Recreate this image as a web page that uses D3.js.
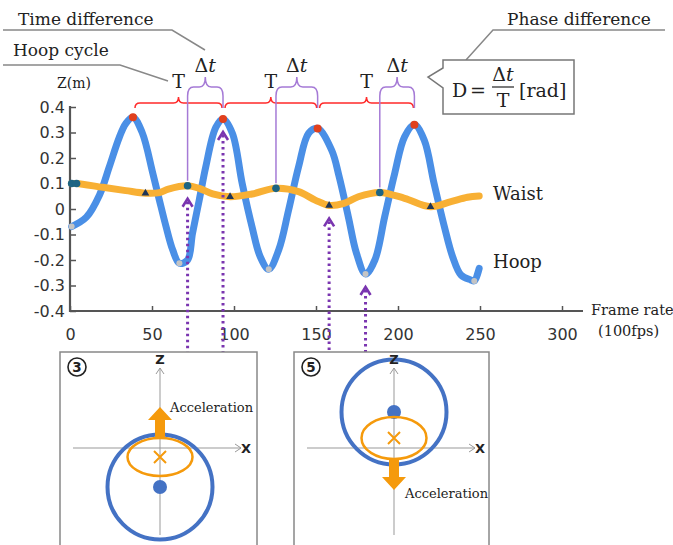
<!DOCTYPE html>
<html>
<head>
<meta charset="utf-8">
<script src="https://cdn.jsdelivr.net/npm/d3@7"></script>
<style>
  body { margin: 0; background: #fff; }
  text { font-family: "DejaVu Serif", serif; fill: #222; }
  .tick text { font-family: "DejaVu Sans", sans-serif; font-size: 16px; fill: #333; }
  .sans { font-family: "DejaVu Sans", sans-serif; font-weight: bold; }
</style>
</head>
<body>
<svg></svg>
<script>
// Hoop height Z(m), by frame
const hoopFrame = [1, 10, 18, 24, 30, 34, 38.4, 44, 50.5, 54.5, 58.6, 62.6, 66.7, 71.7, 74.7,
  78.8, 82.8, 88.9, 93.3, 99, 105, 111, 116, 121.2, 127.3, 133.3, 139.4, 145.5, 151, 159.6, 164,
  169.7, 174.7, 180.2, 185.9, 191.9, 198, 204, 210, 216, 222, 228.3, 233.3, 238.4, 244.4, 246.5, 249.5];
const hoopZ = [-0.069, -0.032, 0.055, 0.166, 0.28, 0.335, 0.36, 0.30, 0.14, 0.035, -0.07, -0.16, -0.213, -0.2, -0.095,
  0.035, 0.166, 0.32, 0.353, 0.297, 0.1, -0.07, -0.187, -0.236, -0.16, -0.004, 0.166, 0.297, 0.316, 0.23, 0.13,
  -0.03, -0.174, -0.255, -0.2, -0.03, 0.14, 0.283, 0.33, 0.27, 0.1, -0.07, -0.187, -0.259, -0.278, -0.282, -0.233];

// Waist height Z(m)
const waistFrame = [1, 4, 20, 34, 46, 54.5, 60, 71.7, 78.8, 87, 97.6, 111, 125.6, 139.4, 149.5, 158,
  167, 175.8, 188.9, 204, 219.8, 232.3, 242.4, 249.5];
const waistZ = [0.10, 0.10, 0.085, 0.072, 0.062, 0.064, 0.078, 0.091, 0.081, 0.059, 0.048, 0.059, 0.081, 0.068, 0.035, 0.014,
  0.022, 0.048, 0.065, 0.042, 0.009, 0.029, 0.046, 0.051];

// marked extremes (frames)
const hoopPeaks = [38.4, 93.3, 151, 210];
const hoopTroughs = [1, 66.7, 121.2, 180.2, 246.5];
const waistPeaks = [1, 4, 71.7, 125.6, 188.9];
const waistTroughs = [46, 97.6, 158, 219.8];

// Δt pairs: waist peak -> following hoop peak
const lagWaist = [71.7, 125.6, 188.9];
const lagHoop = [93.3, 151, 210];

// dotted arrows up to the moments shown in the panels
const arrowFrames = [71.7, 93.3, 158, 180.2];
const arrowSeries = ["waist", "hoop", "waist", "hoop"];

const xTicks = [0, 50, 100, 150, 200, 250, 300];
const yTicks = [-0.4, -0.3, -0.2, -0.1, 0, 0.1, 0.2, 0.3, 0.4];

const hoop = hoopFrame.map((f, i) => [f, hoopZ[i]]);
const waist = waistFrame.map((f, i) => [f, waistZ[i]]);
const zOf = (s, f) => s === "hoop" ? hoopZ[hoopFrame.indexOf(f)] : waistZ[waistFrame.indexOf(f)];

const svg = d3.select("svg").attr("width", 673).attr("height", 545);

const x = d3.scaleLinear().domain([0, 300]).range([70, 562]);
const y = d3.scaleLinear().domain([-0.4, 0.4]).range([311, 107]);

// axes, ticks inside
const gx = svg.append("g").attr("transform", "translate(0,311)")
  .call(d3.axisBottom(x).tickValues(xTicks).tickSize(-5).tickSizeOuter(0).tickPadding(11));
const gy = svg.append("g").attr("transform", "translate(70,0)")
  .call(d3.axisLeft(y).tickValues(yTicks).tickSize(-6).tickSizeOuter(0).tickPadding(5)
    .tickFormat(d => d === 0 ? "0" : d.toFixed(1)));
[gx, gy].forEach(g => {
  g.select(".domain").remove();
  g.selectAll(".tick line").attr("stroke", "#555").attr("stroke-width", 1.5);
});
gx.selectAll(".tick text").attr("dy", "1.1em");
svg.append("line").attr("x1", 70).attr("x2", 583).attr("y1", 311).attr("y2", 311)
  .attr("stroke", "#555").attr("stroke-width", 2.2);
svg.append("line").attr("x1", 70).attr("x2", 70).attr("y1", 106).attr("y2", 312)
  .attr("stroke", "#555").attr("stroke-width", 2.2);

// curves
const line = d3.line().x(d => x(d[0])).y(d => y(d[1])).curve(d3.curveCatmullRom.alpha(0.5));
svg.append("path").datum(hoop).attr("d", line)
  .attr("fill", "none").attr("stroke", "#4a8fe6").attr("stroke-width", 7).attr("stroke-linecap", "round");
svg.append("path").datum(waist).attr("d", line)
  .attr("fill", "none").attr("stroke", "#f8b034").attr("stroke-width", 7).attr("stroke-linecap", "round");

// markers
svg.selectAll("circle.hp").data(hoopPeaks).join("circle")
  .attr("cx", d => x(d)).attr("cy", d => y(zOf("hoop", d))).attr("r", 4).attr("fill", "#e2401c");
svg.selectAll("circle.ht").data(hoopTroughs).join("circle")
  .attr("cx", d => x(d)).attr("cy", d => y(zOf("hoop", d))).attr("r", 3).attr("fill", "#c4c4c4");
svg.selectAll("circle.wp").data(waistPeaks).join("circle")
  .attr("cx", d => x(d)).attr("cy", d => y(zOf("waist", d))).attr("r", 3.8).attr("fill", "#1d6483");
svg.selectAll("path.wt").data(waistTroughs).join("path")
  .attr("d", d3.symbol(d3.symbolTriangle, 26))
  .attr("transform", d => `translate(${x(d)},${y(zOf("waist", d))})`).attr("fill", "#1f3556");

// curly brace path, opening downward
function brace(x1, x2, yEnd, yLine, yTip, r) {
  const xm = (x1 + x2) / 2;
  return `M${x1},${yEnd} Q${x1},${yLine} ${x1 + r},${yLine} L${xm - r},${yLine} Q${xm},${yLine} ${xm},${yTip}` +
    ` Q${xm},${yLine} ${xm + r},${yLine} L${x2 - r},${yLine} Q${x2},${yLine} ${x2},${yEnd}`;
}

// hoop cycle T braces (peak to peak)
d3.range(hoopPeaks.length - 1).forEach(i => {
  const x1 = x(hoopPeaks[i]) + 2, x2 = x(hoopPeaks[i + 1]) - 1;
  svg.append("path").attr("d", brace(x1, x2, 108, 103, 97, 5))
    .attr("fill", "none").attr("stroke", "#ff2a2a").attr("stroke-width", 1.5);
  svg.append("text").attr("x", (x1 + x2) / 2).attr("y", 88).attr("text-anchor", "middle")
    .attr("font-size", 19).text("T");
});

// Δt braces (waist peak to hoop peak)
lagWaist.forEach((f, i) => {
  const x1 = x(f), x2 = x(lagHoop[i]);
  const g = svg.append("g").attr("fill", "none").attr("stroke", "#a57ad6").attr("stroke-width", 1.5);
  g.append("path").attr("d", brace(x1, x2, 96, 87, 77, 6));
  g.append("line").attr("x1", x1).attr("x2", x1).attr("y1", 96).attr("y2", y(zOf("waist", f)) - 5);
  g.append("line").attr("x1", x2).attr("x2", x2).attr("y1", 96).attr("y2", 108);
  const t = svg.append("text").attr("x", (x1 + x2) / 2).attr("y", 72).attr("text-anchor", "middle")
    .attr("font-size", 19);
  t.append("tspan").text("Δ");
  t.append("tspan").attr("font-style", "italic").text("t");
});

// purple dotted arrows
arrowFrames.forEach((f, i) => {
  const ax = x(f), tip = y(zOf(arrowSeries[i], f)) + 13;
  svg.append("line").attr("x1", ax).attr("x2", ax).attr("y1", tip + 3).attr("y2", 353)
    .attr("stroke", "#7a35b0").attr("stroke-width", 3).attr("stroke-dasharray", "2.5,3.5");
  svg.append("path").attr("d", `M${ax - 5},${tip + 8} L${ax},${tip} L${ax + 5},${tip + 8}`)
    .attr("fill", "none").attr("stroke", "#7a35b0").attr("stroke-width", 2.6);
});

// labels
svg.append("text").attr("x", 57).attr("y", 88).attr("font-size", 14).text("Z(m)");
svg.append("text").attr("x", 493).attr("y", 200).attr("font-size", 18).text("Waist");
svg.append("text").attr("x", 493).attr("y", 268).attr("font-size", 18).text("Hoop");
svg.append("text").attr("x", 591).attr("y", 315).attr("font-size", 14.5).text("Frame rate");
svg.append("text").attr("x", 598).attr("y", 336).attr("font-size", 14.5).text("(100fps)");

// callouts
const leader = pts => svg.append("polyline").attr("points", pts.join(" "))
  .attr("fill", "none").attr("stroke", "#888").attr("stroke-width", 1.5);
svg.append("text").attr("x", 18).attr("y", 25).attr("font-size", 17).text("Time difference");
leader([[3, 30], [172, 30], [205, 50]]);
svg.append("text").attr("x", 13).attr("y", 56).attr("font-size", 17).text("Hoop cycle");
leader([[3, 65], [120, 65], [168, 81]]);
svg.append("text").attr("x", 507).attr("y", 25).attr("font-size", 17).text("Phase difference");
leader([[665, 30], [493, 30], [466, 60]]);

// formula box
svg.append("path").attr("d", "M443,60 L574,60 L574,114 L443,114 L443,88 L428,77 L443,68 Z")
  .attr("fill", "#fff").attr("stroke", "#777").attr("stroke-width", 1.5);
svg.append("text").attr("x", 452).attr("y", 97).attr("font-size", 19).text("D");
svg.append("text").attr("x", 470).attr("y", 97).attr("font-size", 19).text("=");
const num = svg.append("text").attr("x", 503).attr("y", 81).attr("text-anchor", "middle").attr("font-size", 19);
num.append("tspan").text("Δ");
num.append("tspan").attr("font-style", "italic").text("t");
svg.append("line").attr("x1", 492).attr("x2", 514).attr("y1", 87).attr("y2", 87)
  .attr("stroke", "#222").attr("stroke-width", 1.2);
svg.append("text").attr("x", 503).attr("y", 107).attr("text-anchor", "middle").attr("font-size", 19).text("T");
svg.append("text").attr("x", 519).attr("y", 97).attr("font-size", 19).text("[rad]");

// schematic panels
const panels = [
  { x: 60, w: 197, num: "3", hoopCy: 135, waistCy: 105, ry: 19, up: true, accX: 110, accY: 60 },
  { x: 294, w: 195, num: "5", hoopCy: 60, waistCy: 86, ry: 21, up: false, accX: 111, accY: 146 }
];
panels.forEach(p => {
  const g = svg.append("g").attr("transform", `translate(${p.x},352)`);
  g.append("rect").attr("width", p.w).attr("height", 205).attr("fill", "#fff")
    .attr("stroke", "#888").attr("stroke-width", 1.5);
  g.append("circle").attr("cx", 17).attr("cy", 15).attr("r", 9).attr("fill", "none")
    .attr("stroke", "#222").attr("stroke-width", 1.6);
  g.append("text").attr("class", "sans").attr("x", 17).attr("y", 20).attr("text-anchor", "middle")
    .attr("font-size", 13.5).text(p.num);
  // axes
  const ax = g.append("g").attr("stroke", "#999").attr("stroke-width", 1).attr("fill", "none");
  ax.append("line").attr("x1", 100).attr("x2", 100).attr("y1", 16).attr("y2", 183);
  ax.append("line").attr("x1", 13).attr("x2", 181).attr("y1", 96).attr("y2", 96);
  ax.append("path").attr("d", "M96,22 L100,16 L104,22");
  ax.append("path").attr("d", "M175,92 L181,96 L175,100");
  // hoop and waist
  g.append("circle").attr("cx", 100).attr("cy", p.hoopCy).attr("r", 52.5).attr("fill", "none")
    .attr("stroke", "#4472c4").attr("stroke-width", 4);
  g.append("circle").attr("cx", 100).attr("cy", p.hoopCy).attr("r", 7).attr("fill", "#4472c4");
  g.append("ellipse").attr("cx", 100).attr("cy", p.waistCy).attr("rx", 32.5).attr("ry", p.ry)
    .attr("fill", "none").attr("stroke", "#f59a0c").attr("stroke-width", 2.5);
  g.append("path").attr("d", `M${94},${p.waistCy - 6} L${106},${p.waistCy + 6} M${106},${p.waistCy - 6} L${94},${p.waistCy + 6}`)
    .attr("stroke", "#f59a0c").attr("stroke-width", 2);
  // acceleration arrow
  const s = p.up ? -1 : 1, base = p.up ? 85 : 108;
  const headBase = base + s * 17, tip = base + s * 30;
  g.append("path").attr("d", `M95,${base} L105,${base} L105,${headBase} L112,${headBase} L100,${tip} L88,${headBase} L95,${headBase} Z`)
    .attr("fill", "#f59a0c");
  g.append("text").attr("x", p.accX).attr("y", p.accY).attr("font-size", 13).text("Acceleration");
  g.append("text").attr("class", "sans").attr("x", 100).attr("y", 12).attr("text-anchor", "middle")
    .attr("font-size", 13).text("Z");
  g.append("text").attr("class", "sans").attr("x", 186).attr("y", 101).attr("text-anchor", "middle")
    .attr("font-size", 13).text("X");
});
</script>
</body>
</html>
